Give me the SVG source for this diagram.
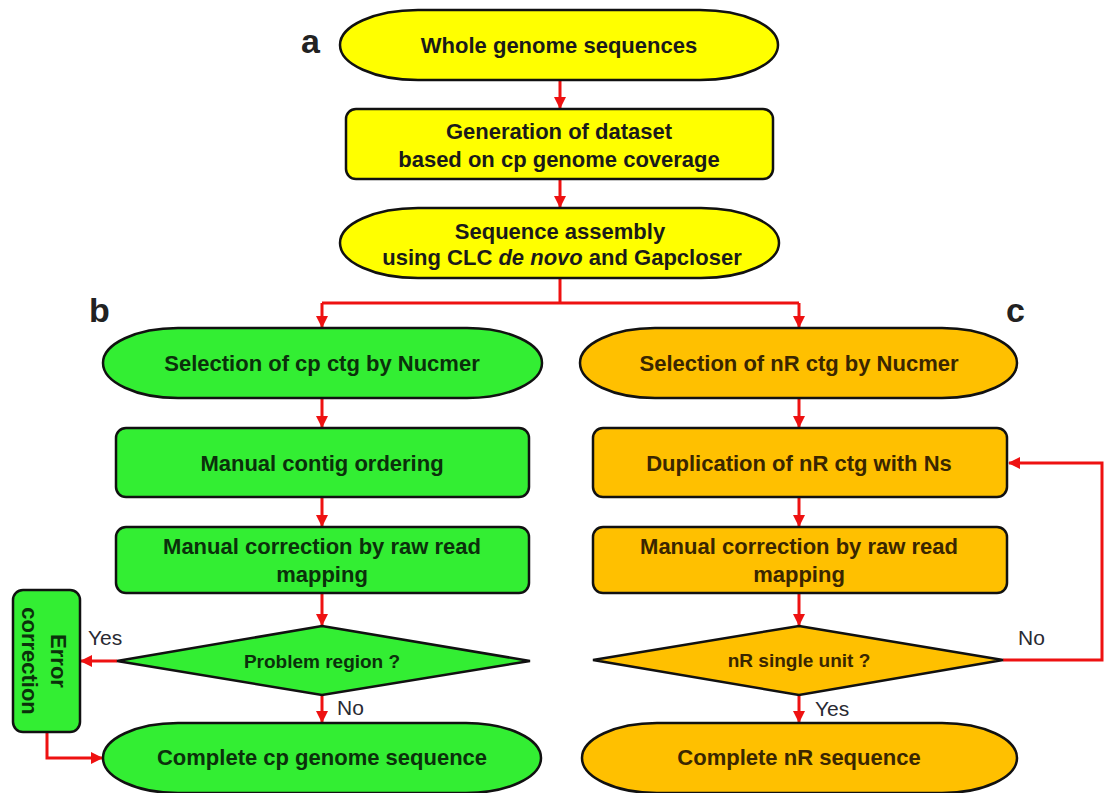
<svg xmlns="http://www.w3.org/2000/svg" width="1104" height="793" viewBox="0 0 1104 793">
<defs>
<style>
.shape{stroke:#111;stroke-width:2.5}
.y{fill:#ffff00}
.g{fill:#33ee33}
.o{fill:#ffc000}
.t{font-family:"Liberation Sans",Arial,sans-serif;font-weight:bold;font-size:22px;text-anchor:middle}
.ty{fill:#1a1a1a}
.tg{fill:#0b300b}
.to{fill:#3a2600}
.d{font-size:19px}
.lab{font-family:"Liberation Sans",Arial,sans-serif;font-weight:bold;font-size:34px;fill:#222}
.yn{font-family:"Liberation Sans",Arial,sans-serif;font-size:21px;fill:#2a2a33}
.c{fill:none;stroke:#ee1111;stroke-width:3}
</style>
<marker id="ah" markerUnits="userSpaceOnUse" markerWidth="12" markerHeight="12" refX="11" refY="6" orient="auto">
<path d="M0,0 L12,6 L0,12 z" fill="#ee1111"/>
</marker>
</defs>
<rect width="1104" height="793" fill="#fff"/>

<text class="lab" x="301" y="53">a</text>
<text class="lab" x="89" y="322">b</text>
<text class="lab" x="1006" y="322">c</text>

<g id="connectors">
<path class="c" d="M560,80 V108" marker-end="url(#ah)"/>
<path class="c" d="M560,179 V207" marker-end="url(#ah)"/>
<path class="c" d="M560,278 V303"/>
<path class="c" d="M322,303 H799"/>
<path class="c" d="M322,303 V327" marker-end="url(#ah)"/>
<path class="c" d="M799,303 V327" marker-end="url(#ah)"/>
<path class="c" d="M322,398 V427" marker-end="url(#ah)"/>
<path class="c" d="M322,497 V526" marker-end="url(#ah)"/>
<path class="c" d="M322,593 V625" marker-end="url(#ah)"/>
<path class="c" d="M117,661 H81" marker-end="url(#ah)"/>
<path class="c" d="M322,695 V722" marker-end="url(#ah)"/>
<path class="c" d="M47,732 V758 H102" marker-end="url(#ah)"/>
<path class="c" d="M799,398 V427" marker-end="url(#ah)"/>
<path class="c" d="M799,497 V526" marker-end="url(#ah)"/>
<path class="c" d="M799,593 V625" marker-end="url(#ah)"/>
<path class="c" d="M799,695 V722" marker-end="url(#ah)"/>
<path class="c" d="M1003,660 H1102 V463 H1009" marker-end="url(#ah)"/>
</g>

<g id="whole">
<path class="shape y" d="M418,10 H700 A78,35 0 0 1 700,80 H418 A78,35 0 0 1 418,10 Z"/>
<text class="t ty" x="559" y="53">Whole genome sequences</text>
</g>

<g id="generation">
<rect class="shape y" x="346" y="109" width="427" height="70" rx="10"/>
<text class="t ty" x="559" y="139">Generation of dataset</text>
<text class="t ty" x="559" y="167">based on cp genome coverage</text>
</g>

<g id="assembly">
<path class="shape y" d="M418,208 H701 A78,35 0 0 1 701,278 H418 A78,35 0 0 1 418,208 Z"/>
<text class="t ty" x="560" y="239">Sequence assembly</text>
<text class="t ty" x="562" y="265">using CLC <tspan font-style="italic">de novo</tspan> and Gapcloser</text>
</g>

<g id="cp-select">
<path class="shape g" d="M178,328 H467 A75,35 0 0 1 467,398 H178 A75,35 0 0 1 178,328 Z"/>
<text class="t tg" x="322" y="371">Selection of cp ctg by Nucmer</text>
</g>

<g id="cp-order">
<rect class="shape g" x="116" y="428" width="413" height="69" rx="10"/>
<text class="t tg" x="322" y="471">Manual contig ordering</text>
</g>

<g id="cp-correct">
<rect class="shape g" x="116" y="527" width="413" height="66" rx="10"/>
<text class="t tg" x="322" y="554">Manual correction by raw read</text>
<text class="t tg" x="322" y="582">mapping</text>
</g>

<g id="cp-problem">
<polygon class="shape g" points="322,626 530,661 322,695 117,661"/>
<text class="t tg d" x="322" y="668">Problem region ?</text>
</g>

<g id="error">
<rect class="shape g" x="13" y="590" width="67" height="142" rx="10"/>
<text class="t tg" transform="translate(51,661) rotate(90)">Error</text>
<text class="t tg" transform="translate(22,661) rotate(90)">correction</text>
</g>

<g id="cp-complete">
<path class="shape g" d="M178,723 H466 A75,35 0 0 1 466,793 H178 A75,35 0 0 1 178,723 Z"/>
<text class="t tg" x="322" y="765">Complete cp genome sequence</text>
</g>

<g id="nr-select">
<path class="shape o" d="M655,328 H942 A75,35 0 0 1 942,398 H655 A75,35 0 0 1 655,328 Z"/>
<text class="t to" x="799" y="371">Selection of nR ctg by Nucmer</text>
</g>

<g id="nr-dup">
<rect class="shape o" x="593" y="428" width="414" height="69" rx="10"/>
<text class="t to" x="799" y="471">Duplication of nR ctg with Ns</text>
</g>

<g id="nr-correct">
<rect class="shape o" x="593" y="527" width="414" height="66" rx="10"/>
<text class="t to" x="799" y="554">Manual correction by raw read</text>
<text class="t to" x="799" y="582">mapping</text>
</g>

<g id="nr-single">
<polygon class="shape o" points="799,626 1003,660 799,695 593,660"/>
<text class="t to d" x="799" y="667">nR single unit ?</text>
</g>

<g id="nr-complete">
<path class="shape o" d="M657,723 H942 A75,35 0 0 1 942,793 H657 A75,35 0 0 1 657,723 Z"/>
<text class="t to" x="799" y="765">Complete nR sequence</text>
</g>

<g id="edge-labels">
<text class="yn" x="88" y="645">Yes</text>
<text class="yn" x="337" y="715">No</text>
<text class="yn" x="815" y="716">Yes</text>
<text class="yn" x="1018" y="645">No</text>
</g>
</svg>
